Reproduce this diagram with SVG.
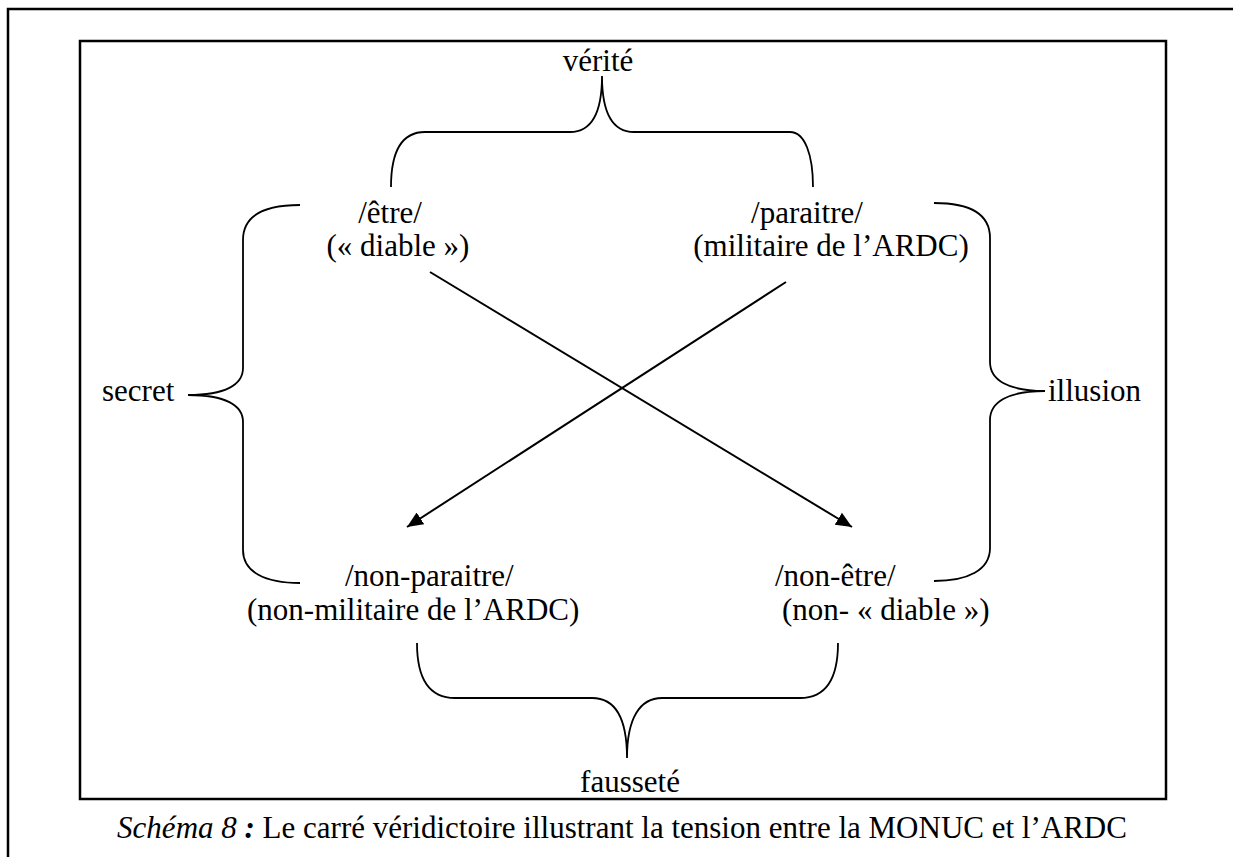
<svg xmlns="http://www.w3.org/2000/svg" width="1233" height="857" viewBox="0 0 1233 857">
<style>
.frame{fill:none;stroke:#000;stroke-width:2.5}
.brace{fill:none;stroke:#000;stroke-width:1.8}
.arrow{fill:none;stroke:#000;stroke-width:2}
text{font-family:"Liberation Serif","Times New Roman",serif;font-size:31px;fill:#000}
.m{text-anchor:middle}
</style>
<defs>
<marker id="ah" markerUnits="userSpaceOnUse" markerWidth="18" markerHeight="14" refX="16" refY="7" orient="auto">
<path d="M0,0 L16,7 L0,14 Z" fill="#000"/>
</marker>
</defs>
<rect width="1233" height="857" fill="#fff"/>
<g id="outer-frame">
<path class="frame" d="M8,857 L8,9 L1233,9"/>
</g>
<g id="inner-frame">
<rect class="frame" x="80" y="41" width="1086" height="758"/>
</g>
<g id="connectors">
<line class="arrow" x1="430" y1="272" x2="852" y2="527" marker-end="url(#ah)"/>
<line class="arrow" x1="786" y1="282" x2="407" y2="527" marker-end="url(#ah)"/>
</g>
<g id="braces">
<path class="brace" d="M391,187 C391,155 400,132 425,132 L570,132 C590,132 602,115 602,76 C602,115 614,132 634,132 L790,132 C805,132 813,155 813,187"/>
<path class="brace" d="M417,643 C417,680 430,698 455,698 L592,698 C615,698 627,718 627,758 C627,718 640,698 662,698 L800,698 C825,698 838,680 838,643"/>
<path class="brace" d="M300,205 C265,205 243,215 243,240 L243,368 C243,385 225,395 188,395 C225,395 243,405 243,422 L243,550 C243,572 265,583 300,583"/>
<path class="brace" d="M934,203 C968,203 990,213 990,238 L990,362 C990,380 1008,391 1045,391 C1008,391 990,402 990,420 L990,548 C990,570 968,581 934,581"/>
</g>
<g id="node-verite"><text class="m" x="598" y="71">vérité</text></g>
<g id="node-etre"><text class="m" x="390" y="223">/être/</text><text class="m" x="398" y="256">(« diable »)</text></g>
<g id="node-paraitre"><text class="m" x="807" y="223">/paraitre/</text><text class="m" x="831" y="256">(militaire de l’ARDC)</text></g>
<g id="node-secret"><text x="102" y="401">secret</text></g>
<g id="node-illusion"><text x="1048" y="401">illusion</text></g>
<g id="node-non-paraitre"><text x="345" y="586">/non-paraitre/</text><text x="247" y="620">(non-militaire de l’ARDC)</text></g>
<g id="node-non-etre"><text x="775" y="586">/non-être/</text><text x="782" y="620">(non- « diable »)</text></g>
<g id="node-faussete"><text class="m" x="630" y="792">fausseté</text></g>
<g id="caption"><text class="m" x="622" y="838"><tspan font-style="italic">Schéma 8</tspan><tspan font-style="italic" font-weight="bold"> :</tspan> Le carré véridictoire illustrant la tension entre la MONUC et l’ARDC</text></g>
</svg>
